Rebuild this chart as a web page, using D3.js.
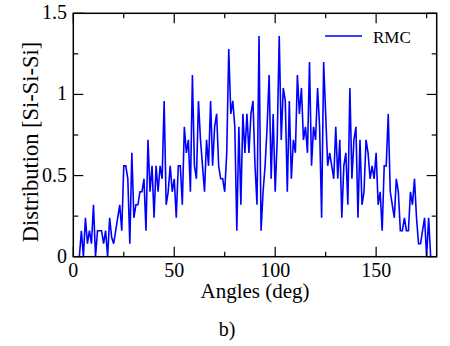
<!DOCTYPE html>
<html>
<head>
<meta charset="utf-8">
<script src="https://cdn.jsdelivr.net/npm/d3@7"></script>
<style>
  body { margin: 0; background: #fff; }
  text { font-family: "Liberation Serif", "DejaVu Serif", serif; fill: #000; }
</style>
</head>
<body>
<div id="chart"></div>
<script>
// Valeurs : une valeur par degré (0 à 180)
const angles = d3.range(0, 181);
const rmc = [
  0, 0, 0, 0, 0.16, 0, 0.24, 0.08, 0.16, 0.08,
  0.32, 0, 0.16, 0.16, 0.16, 0.08, 0.16, 0, 0.24, 0.12,
  0.08, 0.16, 0.24, 0.32, 0.16, 0.56, 0.56, 0.48, 0.08, 0.64,
  0.24, 0.32, 0.32, 0.40, 0.40, 0.48, 0.16, 0.72, 0.40, 0.56,
  0.24, 0.56, 0.40, 0.56, 0.48, 0.96, 0.32, 0.40, 0.56, 0.40,
  0.48, 0.24, 0.56, 0.56, 0.32, 0.80, 0.64, 0.72, 0.40, 1.12,
  0.56, 0.48, 0.96, 0.72, 0.56, 0.40, 0.72, 0.56, 0.96, 0.56,
  0.80, 0.88, 0.56, 0.48, 0.48, 0.40, 0.64, 1.28, 0.88, 0.96,
  0.80, 0.16, 0.80, 0.32, 0.88, 0.64, 0.88, 0.64, 0.88, 0.96,
  0.56, 0.32, 1.36, 0.16, 0.40, 0.56, 0.80, 1.12, 0.48, 0.88,
  0.40, 0.72, 1.36, 0.72, 1.04, 0.96, 0.40, 0.96, 0.48, 0.72,
  0.64, 1.12, 0.88, 1.04, 0.72, 0.80, 0.64, 1.20, 0.56, 0.80,
  0.72, 1.04, 0.80, 0.24, 1.20, 0.88, 0.56, 0.64, 0.56, 0.48,
  0.80, 0.48, 0.72, 0.24, 0.56, 0.64, 0.32, 1.04, 0.48, 0.72,
  0.80, 0.24, 0.72, 0.32, 0.40, 0.72, 0.64, 0.48, 0.56, 0.48,
  0.64, 0.32, 0.40, 0.16, 0.56, 0.56, 0.88, 0.40, 0.32, 0.24,
  0.48, 0.40, 0.16, 0.16, 0.24, 0.16, 0.16, 0.40, 0.32, 0.48,
  0.24, 0.08, 0.08, 0.16, 0.24, 0, 0.24, 0, 0, 0,
  0
];
const xTicks = [0, 50, 100, 150];
const xMinor = [25, 75, 125, 175];
const yTicks = [0, 0.5, 1, 1.5];
const yMinor = [0.25, 0.75, 1.25];

const width = 450, height = 346;
const mLeft = 73.3, mRight = 436.7, mTop = 13.3, mBottom = 256.7;

const x = d3.scaleLinear().domain([0, 180]).range([mLeft, mRight]);
const y = d3.scaleLinear().domain([0, 1.5]).range([mBottom, mTop]);

const svg = d3.select("#chart")
  .append("svg")
  .attr("width", width)
  .attr("height", height);

svg.append("clipPath")
  .attr("id", "zone")
  .append("rect")
  .attr("x", mLeft).attr("y", mTop)
  .attr("width", mRight - mLeft).attr("height", mBottom - mTop);

// Courbe RMC
const line = d3.line()
  .x((d, i) => x(angles[i]))
  .y(d => y(d));

svg.append("path")
  .datum(rmc)
  .attr("clip-path", "url(#zone)")
  .attr("d", line)
  .attr("fill", "none")
  .attr("stroke", "#0000ff")
  .attr("stroke-width", 1.6)
  .attr("stroke-linejoin", "miter");

// Graduations vers l'intérieur, sur les quatre côtés
const ticks = svg.append("g").attr("stroke", "#000").attr("stroke-width", 1.2);
const major = 10, minor = 5;

xTicks.concat(xMinor).forEach(v => {
  const len = xTicks.includes(v) ? major : minor;
  ticks.append("line").attr("x1", x(v)).attr("x2", x(v)).attr("y1", mBottom).attr("y2", mBottom - len);
  ticks.append("line").attr("x1", x(v)).attr("x2", x(v)).attr("y1", mTop).attr("y2", mTop + len);
});
yTicks.concat(yMinor).forEach(v => {
  const len = yTicks.includes(v) ? major : minor;
  ticks.append("line").attr("x1", mLeft).attr("x2", mLeft + len).attr("y1", y(v)).attr("y2", y(v));
  ticks.append("line").attr("x1", mRight).attr("x2", mRight - len).attr("y1", y(v)).attr("y2", y(v));
});

svg.append("rect")
  .attr("x", mLeft).attr("y", mTop)
  .attr("width", mRight - mLeft).attr("height", mBottom - mTop)
  .attr("fill", "none")
  .attr("stroke", "#000")
  .attr("stroke-width", 1.5);

// Etiquettes
svg.append("g").selectAll("text")
  .data(xTicks)
  .enter()
  .append("text")
  .attr("x", d => x(d))
  .attr("y", 277)
  .attr("text-anchor", "middle")
  .style("font-size", "20px")
  .text(d => d);

svg.append("g").selectAll("text")
  .data(yTicks)
  .enter()
  .append("text")
  .attr("x", 67)
  .attr("y", d => y(d) + 6)
  .attr("text-anchor", "end")
  .style("font-size", "20px")
  .text(d => d);

svg.append("text")
  .attr("x", 255).attr("y", 298)
  .attr("text-anchor", "middle")
  .style("font-size", "21px")
  .text("Angles (deg)");

svg.append("text")
  .attr("transform", "translate(38,142) rotate(-90)")
  .attr("text-anchor", "middle")
  .style("font-size", "22.5px")
  .text("Distribution [Si-Si-Si]");

svg.append("text")
  .attr("x", 227).attr("y", 336)
  .attr("text-anchor", "middle")
  .style("font-size", "20px")
  .text("b)");

// Légende
svg.append("line")
  .attr("x1", 325).attr("x2", 362)
  .attr("y1", 36).attr("y2", 36)
  .attr("stroke", "#0000ff")
  .attr("stroke-width", 1.6);

svg.append("text")
  .attr("x", 373).attr("y", 42.5)
  .style("font-size", "17px")
  .text("RMC");
</script>
</body>
</html>
